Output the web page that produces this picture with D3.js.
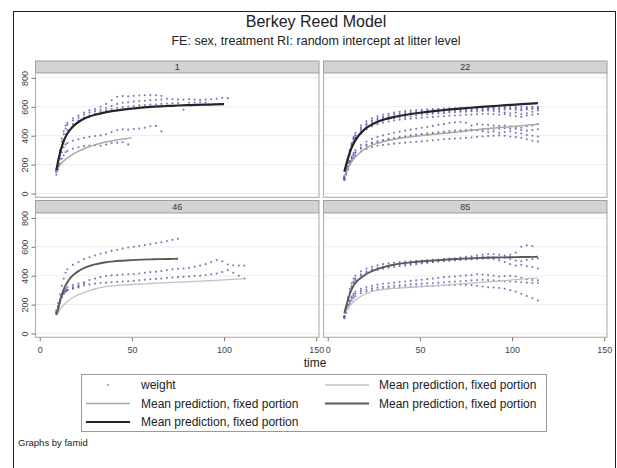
<!DOCTYPE html>
<html>
<head>
<meta charset="utf-8">
<script src="https://cdn.jsdelivr.net/npm/d3@7"></script>
<style>
  html, body { margin: 0; padding: 0; background: #fff; }
  svg { display: block; }
</style>
</head>
<body>
<script>
// ---- data ---------------------------------------------------------------
// measurement times shared by every animal (an animal's series may stop early)
const times = [9,10,11,12,13,14,15,18,21,24,27,30,33,36,39,42,45,48,51,54,57,60,63,66,69,72,75,78,81,84,87,90,93,96,99,102,105,108,111,114];

// litter (famid) labels of the four panels
const litters = ["1", "22", "46", "85"];

// observed weights, one array per animal
const weights1 = [
  [170,230,300,380,430,470,490,520,540,560,575,585,600,620,645,670,675,672,676,678,680,682,680,676],
  [160,220,290,360,410,450,475,505,525,545,560,570,580,592,605,620,628,632,636,640,642,646,648,650,655,652,650,650,652,650,648,650,652,656,662,660],
  [150,200,260,320,370,410,440,480,505,525,540,552,565,575,585,592,598,602,606,610,612,615,618,620,622,625,626,580,628,630,632,630],
  [150,190,240,285,320,340,350,365,375,385,392,398,402,410,425,440,445,442,446,450,455,465,468,430],
  [130,165,205,240,265,285,295,310,320,328,332,334,330,338,350,352,355,340]
];
const weights22 = [
  [110,170,240,300,350,390,420,470,500,520,535,545,552,560,566,570,574,578,580,583,585,587,588,590,590,592,593,594,595,596,596,597,598,598,598,599,600,598,600,600],
  [100,160,225,285,335,375,405,455,485,505,520,530,540,548,553,558,562,566,570,572,575,577,578,580,582,583,585,586,585,588,590,588,590,592,588,590,585,590,592,590],
  [95,150,210,270,320,355,385,430,460,480,495,505,515,520,526,530,535,540,545,548,552,555,556,560,562,565,566,570,568,572,575,570,565,560,555,560,548,555,565,575],
  [120,175,235,290,330,360,380,415,445,465,480,490,498,505,510,515,518,522,525,528,530,533,535,538,540,542,545,546,548,550,552,548,545,550,540,535,530,540,545,550],
  [105,165,230,290,340,378,400,445,475,495,510,520,528,534,540,545,550,553,556,560,562,565,567,570,572,574,576,578,580,578,582,584,580,582,585,580,575,582,585,588],
  [110,150,190,225,255,280,300,335,360,378,392,402,412,420,428,435,442,448,455,460,468,475,480,488,492,495,490,470,480,478,475,470,468,470,465,460,455,465,470,480],
  [100,140,180,215,240,262,280,310,330,345,355,365,372,378,385,390,395,400,404,408,412,415,418,420,425,428,432,435,440,442,445,448,450,452,450,448,440,435,440,445],
  [95,130,165,200,225,245,262,290,308,320,330,335,340,345,348,352,355,358,362,365,368,372,375,378,380,382,385,388,392,395,398,400,402,400,395,390,385,375,365,360],
  [105,145,185,220,245,268,285,318,338,352,362,370,378,384,390,396,402,408,412,416,420,425,428,432,435,438,440,442,438,430,425,430,420,425,430,420,415,405,400,395]
];
const weights46 = [
  [160,210,270,330,380,420,445,475,495,515,528,540,552,560,572,580,588,595,600,605,612,618,625,632,640,648,655],
  [150,190,235,270,295,310,320,335,345,355,370,380,390,398,402,405,408,410,412,415,420,425,428,432,440,445,448,450,455,462,470,480,495,508,500,478,472,470,470],
  [140,180,220,255,275,290,300,315,325,332,340,345,350,352,355,358,360,362,365,368,372,375,378,380,385,388,390,392,395,398,400,405,410,415,425,440,420,400,380],
  [135,175,215,250,275,290,300,310,318],
  [145,185,230,265,285,295,305,320,330,345]
];
const weights85 = [
  [120,180,250,310,350,380,400,430,450,462,472,480,486,490,495,498,500,503,505,508,510,512,515,518,520,525,530,535,540,545,550,548,545,540,545,560,600,610,605],
  [115,170,235,290,330,360,380,410,430,445,455,462,468,472,476,480,484,488,490,492,495,498,500,502,505,508,510,512,515,518,520,515,505,495,480,470,475,465,460,450],
  [110,165,225,280,320,350,370,400,420,432,440,448,455,460,465,470,475,480,485,490,495,500,505,508,512,515,520,525,528,530,528,525,520,525,515,505,500,510,515,520],
  [120,160,200,230,255,275,290,310,322,330,338,344,348,352,356,360,364,368,372,376,380,385,390,392,395,400,402,405,410,408,405,400,395,398,400,395,385,375,370,368],
  [115,150,190,220,245,262,275,295,305,312,318,322,326,330,333,336,340,342,345,348,350,352,355,358,360,362,365,368,370,372,370,368,365,362,360,358,355,352,350,350],
  [105,140,175,205,228,245,258,278,290,298,304,308,312,315,318,320,322,325,326,328,330,332,334,335,336,338,338,335,330,325,320,318,315,310,300,290,275,260,245,228]
];

// mean prediction (fixed portion), evaluated on its own time grid
const predTimes = [9,10,11,12,13,14,15,17,19,21,24,27,30,35,40,45,50,55,60,65,70,75,80,85,90,95,100,105,110,114];
const pred1Upper  = [160,225,280,325,362,392,415,450,475,495,518,533,545,560,572,581,588,594,599,603,606,609,611,613,615,617,619];
const pred1Lower  = [150,175,196,212,225,236,246,263,280,292,310,325,337,354,367,377,385];
const pred22Upper = [150,200,245,285,318,345,368,405,432,454,478,497,510,527,540,550,559,567,574,580,586,591,596,601,605,610,614,618,622,625];
const pred22Lower = [120,150,177,200,220,237,252,277,298,315,335,348,358,372,384,393,400,407,413,419,426,433,442,448,453,458,463,469,475,480];
const pred46Upper = [130,170,225,268,305,333,355,390,414,432,453,467,478,491,499,504,508,511,513,515,516,517];
const pred46Lower = [125,145,165,182,197,210,221,240,256,268,283,296,308,322,330,335,339,342,346,349,352,355,358,361,364,367,371,374,378];
const pred85Upper = [140,190,235,275,305,330,350,375,395,412,432,446,458,474,485,492,498,503,508,512,516,519,522,524,526,527,528,529,530,531];
const pred85Lower = [135,155,175,192,207,220,231,250,265,276,290,300,306,312,316,320,324,328,332,337,342,347,351,356,361,365,371,376,381,385];

// axis ticks
const yTicks = [0, 200, 400, 600, 800];
const xTicks = [0, 50, 100, 150];

// legend entries
const legendLabels = ["weight", "Mean prediction, fixed portion", "Mean prediction, fixed portion",
                      "Mean prediction, fixed portion", "Mean prediction, fixed portion"];

// ---- styles ---------------------------------------------------------------
const FONT = '"Liberation Sans", Arial, Helvetica, sans-serif';
const pointColor = "#5a58ac";
const lineStyles = {
  gray:  { stroke: "#aca6a6", width: 1.5 },
  black: { stroke: "#262424", width: 2.2 },
  light: { stroke: "#c6c1c1", width: 1.3 },
  dark:  { stroke: "#5c5858", width: 1.9 }
};

const panels = [
  { label: litters[0], col: 0, row: 0, weights: weights1,
    preds: [{ v: pred1Lower, s: "gray" }, { v: pred1Upper, s: "black" }] },
  { label: litters[1], col: 1, row: 0, weights: weights22,
    preds: [{ v: pred22Lower, s: "gray" }, { v: pred22Upper, s: "black" }] },
  { label: litters[2], col: 0, row: 1, weights: weights46,
    preds: [{ v: pred46Lower, s: "light" }, { v: pred46Upper, s: "dark" }] },
  { label: litters[3], col: 1, row: 1, weights: weights85,
    preds: [{ v: pred85Lower, s: "light" }, { v: pred85Upper, s: "dark" }] }
];

// ---- layout ---------------------------------------------------------------
const W = 617, H = 468;
const cols = [[35.5, 319], [323.5, 607]];
const rows = [{ head: 61, top: 73, bottom: 197.3 }, { head: 200.5, top: 213, bottom: 337.3 }];

const svg = d3.select("body").append("svg")
  .attr("width", W).attr("height", H)
  .style("font-family", FONT);

svg.append("rect").attr("width", W).attr("height", H).attr("fill", "#fff");

// outer graph frame
svg.append("rect")
  .attr("x", 13.5).attr("y", 11.5).attr("width", 602).attr("height", 470)
  .attr("fill", "none").attr("stroke", "#1e1e1e").attr("stroke-width", 1);

// titles
svg.append("text").attr("x", 316).attr("y", 27)
  .attr("text-anchor", "middle").attr("font-size", 16).attr("fill", "#222")
  .text("Berkey Reed Model");
svg.append("text").attr("x", 316).attr("y", 45)
  .attr("text-anchor", "middle").attr("font-size", 12.5).attr("fill", "#222")
  .text("FE: sex, treatment RI: random intercept at litter level");

const line = d3.line().curve(d3.curveMonotoneX);

panels.forEach(p => {
  const [x0, x1] = cols[p.col];
  const r = rows[p.row];
  const x = d3.scaleLinear().domain([-2.3, 151.5]).range([x0, x1]);
  const y = d3.scaleLinear().domain([-26.3, 834]).range([r.bottom, r.top]);

  const g = svg.append("g");

  // header strip
  g.append("rect")
    .attr("x", x0).attr("y", r.head).attr("width", x1 - x0).attr("height", r.top - r.head)
    .attr("fill", "#d3d3d3").attr("stroke", "#9f9f9f").attr("stroke-width", 1);
  g.append("text")
    .attr("x", (x0 + x1) / 2).attr("y", r.head + 9.2)
    .attr("text-anchor", "middle").attr("font-size", 9).attr("fill", "#333")
    .text(p.label);

  // plot region
  g.append("rect")
    .attr("x", x0).attr("y", r.top).attr("width", x1 - x0).attr("height", r.bottom - r.top)
    .attr("fill", "#fff");

  // grid lines
  g.append("g").selectAll("line").data(yTicks).join("line")
    .attr("x1", x0).attr("x2", x1)
    .attr("y1", d => y(d)).attr("y2", d => y(d))
    .attr("stroke", "#ededed").attr("stroke-width", 1);

  // observed weights
  const pts = [];
  p.weights.forEach(series => series.forEach((v, i) => pts.push([times[i], v])));
  g.append("g").selectAll("circle").data(pts).join("circle")
    .attr("cx", d => x(d[0])).attr("cy", d => y(d[1])).attr("r", 1.05)
    .attr("fill", pointColor).attr("fill-opacity", 0.8);

  // mean predictions
  p.preds.forEach(pr => {
    const st = lineStyles[pr.s];
    g.append("path")
      .attr("d", line(pr.v.map((v, i) => [x(predTimes[i]), y(v)])))
      .attr("fill", "none").attr("stroke", st.stroke).attr("stroke-width", st.width);
  });

  // region border
  g.append("rect")
    .attr("x", x0).attr("y", r.top).attr("width", x1 - x0).attr("height", r.bottom - r.top)
    .attr("fill", "none").attr("stroke", "#b4b4b4").attr("stroke-width", 1.2);

  // y axis on the left column
  if (p.col === 0) {
    const ay = g.append("g").attr("transform", `translate(${x0},0)`)
      .call(d3.axisLeft(y).tickValues(yTicks).tickSize(4).tickSizeOuter(0));
    ay.select(".domain").remove();
    ay.selectAll(".tick line").attr("stroke", "#777");
    ay.selectAll(".tick text")
      .attr("transform", "rotate(-90)")
      .attr("x", 0).attr("y", -7.3).attr("dy", 0)
      .attr("text-anchor", "middle")
      .attr("font-size", 9).attr("font-family", FONT).attr("fill", "#444");
  }
  // x axis on the bottom row
  if (p.row === 1) {
    const ax = g.append("g").attr("transform", `translate(0,${r.bottom})`)
      .call(d3.axisBottom(x).tickValues(xTicks).tickSize(4).tickSizeOuter(0));
    ax.select(".domain").remove();
    ax.selectAll(".tick line").attr("stroke", "#777");
    ax.selectAll(".tick text")
      .attr("y", 9.6).attr("dy", "0.71em")
      .attr("font-size", 9).attr("font-family", FONT).attr("fill", "#444");
  }
});

// x axis title
svg.append("text").attr("x", 315).attr("y", 366.5)
  .attr("text-anchor", "middle").attr("font-size", 12).attr("fill", "#222")
  .text("time");

// ---- legend ---------------------------------------------------------------
const lg = svg.append("g");
lg.append("rect").attr("x", 81.5).attr("y", 374.5).attr("width", 465).attr("height", 57)
  .attr("fill", "#fff").attr("stroke", "#9a9a9a").attr("stroke-width", 1);

const legendKeys = [
  { col: 0, row: 0, kind: "point" },
  { col: 1, row: 0, kind: "light" },
  { col: 0, row: 1, kind: "gray" },
  { col: 1, row: 1, kind: "dark" },
  { col: 0, row: 2, kind: "black" }
];
const legCols = [{ l0: 86, l1: 130, tx: 141 }, { l0: 325, l1: 369, tx: 379 }];
const legRows = [385, 403.5, 422];

legendKeys.forEach((k, i) => {
  const c = legCols[k.col], yy = legRows[k.row];
  if (k.kind === "point") {
    lg.append("circle").attr("cx", (c.l0 + c.l1) / 2).attr("cy", yy).attr("r", 1)
      .attr("fill", "#9a9a9a");
  } else {
    const st = lineStyles[k.kind];
    lg.append("line").attr("x1", c.l0).attr("x2", c.l1).attr("y1", yy).attr("y2", yy)
      .attr("stroke", st.stroke).attr("stroke-width", st.width);
  }
  lg.append("text").attr("x", c.tx).attr("y", yy + 4.2)
    .attr("font-size", 12).attr("fill", "#222")
    .text(legendLabels[i]);
});

// note
svg.append("text").attr("x", 18).attr("y", 446)
  .attr("font-size", 9.5).attr("fill", "#222")
  .text("Graphs by famid");
</script>
</body>
</html>
